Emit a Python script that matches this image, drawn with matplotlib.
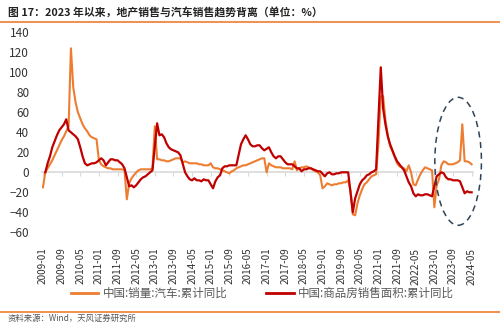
import numpy as np
import matplotlib
matplotlib.use("Agg")
import matplotlib.pyplot as plt
from matplotlib.patches import Ellipse
from matplotlib.lines import Line2D

plt.rcParams['font.family'] = ['Noto Sans CJK SC', 'DejaVu Sans']

# monthly, 2009-01 .. 2024-05
start_year = 2009
car_sales = [
    -15, 0, 4, 8, 12, 17, 22, 27, 32, 36, 41, 46,        # 2009
    124, 85, 70, 60, 54, 48, 44, 41, 37, 35, 34, 33,     # 2010
    12, 8, 6, 5, 4, 4, 3, 3, 3, 3, 3, 2,                 # 2011
    -27, -11, -6, -3, 0, 2, 3, 3, 3, 3, 3, 4,            # 2012
    46, 13, 13, 12, 12, 11, 11, 12, 13, 14, 14, 14,      # 2013
    10, 11, 10, 9, 9, 9, 9, 8, 8, 7, 7, 7,               # 2014
    9, 5, 4, 4, 3, 2, 1, 0, -1, 1, 2, 4,                 # 2015
    5, 6, 7, 7, 8, 9, 10, 11, 12, 13, 14, 14,            # 2016
    0, 9, 7, 6, 5, 5, 5, 4, 4, 4, 4, 3,                  # 2017
    11, 2, 4, 5, 5, 6, 5, 4, 2, 1, 0, -3,                # 2018
    -16, -14, -11, -12, -13, -12, -12, -11, -11, -10, -10, -8,  # 2019
    -18, -42, -43, -31, -23, -17, -12, -10, -7, -4, -3, -2,     # 2020
    29, 76, 76, 52, 37, 26, 21, 15, 9, 6, 5, 4,          # 2021
    1, 7, 0, -12, -13, -7, -2, 2, 5, 4, 3, 2,            # 2022
    -35, -13, -7, 7, 11, 10, 8, 8, 8, 9, 10, 12,         # 2023
    48, 11, 11, 10, 8,                                   # 2024
]
house_area = [
    None, 0, 9, 16, 25, 31, 37, 42, 45, 48, 53, 42,      # 2009
    None, 38, 36, 33, 25, 16, 9, 7, 8, 9, 9, 10,         # 2010
    None, 14, 12, 7, 10, 13, 13, 12, 12, 10, 8, 4,       # 2011
    None, -14, -13, -15, -13, -10, -7, -5, -4, -2, 0, 2, # 2012
    None, 49, 37, 38, 35, 29, 25, 23, 22, 21, 20, 17,    # 2013
    None, 0, -4, -7, -8, -6, -8, -8, -9, -7, -8, -8,     # 2014
    None, -16, -9, -5, -3, 4, 6, 6, 7, 7, 7, 7,          # 2015
    None, 28, 33, 37, 33, 28, 26, 26, 27, 27, 24, 22,    # 2016
    None, 25, 20, 16, 14, 16, 16, 13, 10, 8, 8, 8,       # 2017
    None, 4, 4, 1, 3, 3, 4, 4, 3, 2, 1, 1,               # 2018
    None, -4, -1, 0, -2, -2, -1, -1, 0, 0, 0, 0,         # 2019
    None, -40, -26, -19, -12, -8, -6, -3, -2, 0, 1, 3,   # 2020
    None, 105, 64, 48, 36, 28, 22, 16, 11, 8, 5, 2,      # 2021
    None, -10, -14, -21, -24, -22, -23, -23, -22, -22, -23, -24,  # 2022
    None, -4, -2, 0, -1, -5, -7, -7, -8, -8, -8, -9,     # 2023
    None, -21, -19, -20, -20,                            # 2024
]
car_label = '中国:销量:汽车:累计同比'
house_label = '中国:商品房销售面积:累计同比'
title = '图 17：2023 年以来，地产销售与汽车销售趋势背离（单位：%）'
source = '资料来源：Wind，天风证券研究所'

n = len(car_sales)
months = [f"{start_year + i // 12}-{i % 12 + 1:02d}" for i in range(n)]
x = np.arange(n)
hx = [i for i, v in enumerate(house_area) if v is not None]
hy = [v for v in house_area if v is not None]

orange = '#ED7D31'
red = '#C00000'

fig = plt.figure(figsize=(5, 3.26), dpi=100)
ax = fig.add_axes([0.0836, 0.2874, 0.862, 0.6135])

ax.plot(x, car_sales, color=orange, lw=1.5, zorder=3)
ax.plot(hx, hy, color=red, lw=1.6, zorder=4)

ax.set_xlim(-0.5, n - 0.5)
ax.set_ylim(-60, 140)
ax.set_yticks(range(-60, 141, 20))
ax.tick_params(axis='y', length=0, labelsize=8.5, labelcolor='#333333', pad=9)
ticks = list(range(0, n, 8))
ax.set_xticks(ticks)
ax.set_xticklabels([months[i] for i in ticks], rotation=90, fontsize=7.2,
                   color='#333333')
ax.tick_params(axis='x', length=0, pad=11)
for s in ax.spines.values():
    s.set_visible(False)

# zero line with tick marks
sec = ax.secondary_xaxis(0.3)
sec.set_xticks(ticks)
sec.tick_params(axis='x', length=3, color='#d9d9d9', labelbottom=False)
sec.spines['bottom'].set_color('#d9d9d9')
sec.spines['bottom'].set_linewidth(1.2)

ell = Ellipse((178.2, 11), 20, 128, fill=False, ls=(0, (4, 3)),
              ec='#2f4358', lw=1.1, zorder=5, clip_on=False)
ax.add_patch(ell)

handles = [Line2D([0], [0], color=orange, lw=2),
           Line2D([0], [0], color=red, lw=2)]
fig.legend(handles, [car_label, house_label], loc='center',
           bbox_to_anchor=(0.525, 0.1), ncol=2, frameon=False, fontsize=8.3,
           labelcolor='#595959', handlelength=2.4, columnspacing=3.3,
           handletextpad=0.4)

fig.text(0.016, 0.963, title, fontsize=7.8, fontweight='bold', color='#222222',
         va='center', ha='left')
fig.add_artist(Line2D([0, 1], [0.934, 0.934], color=orange, lw=1.2))
fig.add_artist(Line2D([0, 1], [0.043, 0.043], color=orange, lw=1.2))
fig.text(0.016, 0.022, source, fontsize=6, color='#555555', va='center',
         ha='left')

fig.savefig('out.png', dpi=100)
